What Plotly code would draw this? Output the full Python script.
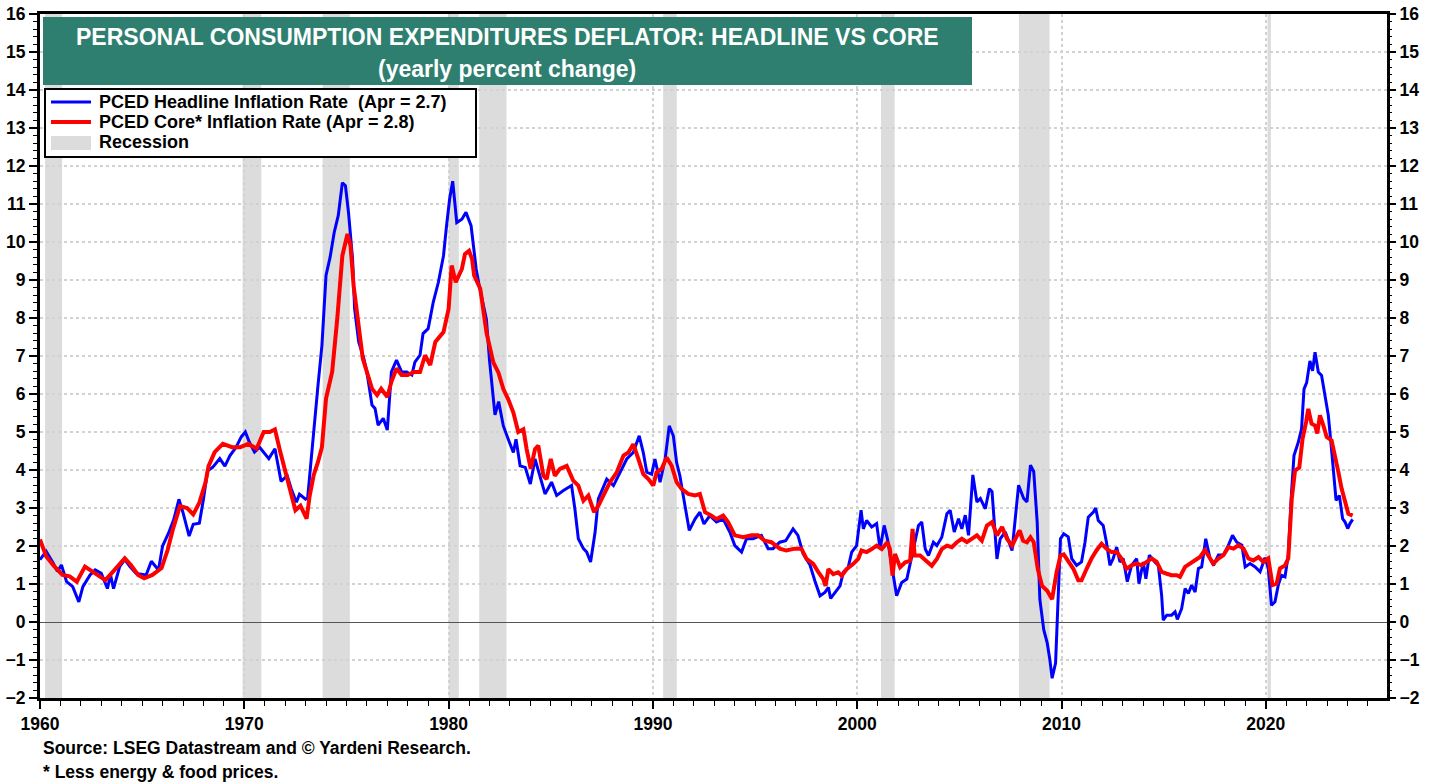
import plotly.graph_objects as go

# ---------------- data (decimal year, yearly % change) ----------------
headline_points = [
    (1960.0, 1.64), (1960.3, 1.86), (1960.65, 1.55), (1960.85, 1.33), (1961.05, 1.5),
    (1961.3, 1.06), (1961.6, 0.93), (1961.9, 0.53), (1962.1, 0.93), (1962.45, 1.24),
    (1962.7, 1.37), (1963.0, 1.28), (1963.3, 0.88), (1963.45, 1.24), (1963.6, 0.88),
    (1963.9, 1.46), (1964.15, 1.64), (1964.4, 1.46), (1964.7, 1.28), (1965.2, 1.24),
    (1965.45, 1.6), (1965.8, 1.37), (1966.0, 2.0), (1966.3, 2.35), (1966.55, 2.7),
    (1966.8, 3.23), (1967.0, 2.88), (1967.3, 2.26), (1967.5, 2.57), (1967.8, 2.6),
    (1968.0, 3.23), (1968.2, 3.98), (1968.45, 4.07), (1968.8, 4.3), (1969.05, 4.1),
    (1969.3, 4.38), (1969.6, 4.6), (1969.85, 4.87), (1970.05, 5.0), (1970.25, 4.73),
    (1970.5, 4.47), (1970.75, 4.6), (1971.2, 4.3), (1971.5, 4.56), (1971.8, 3.7),
    (1972.1, 3.85), (1972.3, 3.5), (1972.55, 3.15), (1972.7, 3.36), (1973.0, 3.23),
    (1973.1, 3.26), (1973.3, 4.48), (1973.45, 5.27), (1973.6, 6.19), (1973.8, 7.28),
    (1974.0, 9.12), (1974.2, 9.6), (1974.4, 10.25), (1974.6, 10.7), (1974.8, 11.56),
    (1974.95, 11.48), (1975.1, 10.78), (1975.3, 9.55), (1975.4, 8.24), (1975.6, 7.37),
    (1975.85, 6.93), (1976.0, 6.58), (1976.25, 5.71), (1976.4, 5.62), (1976.55, 5.18),
    (1976.8, 5.36), (1977.0, 5.05), (1977.2, 6.58), (1977.45, 6.89), (1977.7, 6.58),
    (1977.95, 6.58), (1978.2, 6.5), (1978.35, 6.84), (1978.6, 7.02), (1978.75, 7.59),
    (1979.0, 7.72), (1979.25, 8.42), (1979.5, 8.94), (1979.75, 9.64), (1979.9, 10.43),
    (1980.05, 11.13), (1980.2, 11.6), (1980.4, 10.51), (1980.65, 10.6), (1980.85, 10.78),
    (1981.1, 10.43), (1981.35, 9.29), (1981.5, 8.85), (1981.85, 7.97), (1982.0, 6.9),
    (1982.15, 6.0), (1982.27, 5.45), (1982.45, 5.8), (1982.68, 5.16), (1982.92, 4.81),
    (1983.17, 4.46), (1983.3, 4.81), (1983.5, 4.11), (1983.75, 4.07), (1984.0, 3.63),
    (1984.23, 4.29), (1984.47, 3.85), (1984.72, 3.37), (1985.04, 3.68), (1985.29, 3.33),
    (1985.62, 3.46), (1986.02, 3.59), (1986.18, 2.98), (1986.35, 2.19), (1986.6, 1.93),
    (1986.76, 1.84), (1986.95, 1.58), (1987.17, 2.36), (1987.33, 3.24), (1987.74, 3.76),
    (1988.07, 3.59), (1988.4, 3.94), (1988.72, 4.29), (1989.04, 4.46), (1989.33, 4.9),
    (1989.53, 4.46), (1989.7, 3.94), (1989.94, 3.89), (1990.1, 4.29), (1990.35, 3.68),
    (1990.6, 4.29), (1990.8, 5.16), (1991.0, 4.9), (1991.16, 4.2), (1991.32, 3.85),
    (1991.57, 3.06), (1991.78, 2.41), (1992.06, 2.71), (1992.3, 2.89), (1992.5, 2.58),
    (1992.79, 2.8), (1993.11, 2.63), (1993.44, 2.71), (1993.77, 2.36), (1994.01, 2.01),
    (1994.34, 1.84), (1994.58, 2.19), (1994.9, 2.19), (1995.31, 2.28), (1995.64, 1.93),
    (1995.88, 1.93), (1996.21, 2.1), (1996.5, 2.14), (1996.86, 2.45), (1997.1, 2.28),
    (1997.35, 1.8), (1997.69, 1.5), (1997.93, 1.08), (1998.18, 0.69), (1998.42, 0.78),
    (1998.59, 0.91), (1998.7, 0.62), (1998.91, 0.78), (1999.16, 0.95), (1999.32, 1.31),
    (1999.56, 1.44), (1999.73, 1.84), (1999.97, 2.01), (2000.19, 2.94), (2000.3, 2.45),
    (2000.46, 2.67), (2000.71, 2.5), (2000.95, 2.59), (2001.12, 1.92), (2001.32, 2.54),
    (2001.48, 2.19), (2001.69, 1.48), (2001.93, 0.69), (2002.18, 1.04), (2002.43, 1.13),
    (2002.75, 1.92), (2003.0, 2.54), (2003.16, 2.63), (2003.33, 1.92), (2003.49, 1.75),
    (2003.73, 2.1), (2003.9, 2.01), (2004.14, 2.23), (2004.39, 2.85), (2004.55, 2.94),
    (2004.75, 2.37), (2004.96, 2.72), (2005.12, 2.45), (2005.29, 2.81), (2005.45, 2.28),
    (2005.66, 3.87), (2005.86, 3.16), (2006.03, 3.25), (2006.27, 2.98), (2006.47, 3.51),
    (2006.6, 3.43), (2006.84, 1.66), (2007.0, 2.19), (2007.25, 2.37), (2007.58, 1.88),
    (2007.79, 3.07), (2007.9, 3.6), (2008.15, 3.25), (2008.31, 3.16), (2008.48, 4.13),
    (2008.64, 3.96), (2008.81, 2.63), (2008.94, 0.6), (2009.13, -0.2), (2009.3, -0.55),
    (2009.43, -0.99), (2009.54, -1.48), (2009.71, -1.08), (2009.82, 0.42), (2009.95, 2.19),
    (2010.11, 2.32), (2010.33, 2.24), (2010.5, 1.67), (2010.74, 1.49), (2010.98, 1.58),
    (2011.15, 2.1), (2011.31, 2.76), (2011.56, 2.89), (2011.67, 3.0), (2011.8, 2.67),
    (2012.04, 2.54), (2012.2, 2.1), (2012.37, 1.49), (2012.53, 1.67), (2012.7, 1.97),
    (2012.86, 1.58), (2013.02, 1.67), (2013.22, 1.06), (2013.43, 1.49), (2013.68, 1.67),
    (2013.79, 1.01), (2014.0, 1.58), (2014.13, 1.14), (2014.3, 1.76), (2014.57, 1.58),
    (2014.74, 1.49), (2014.9, 0.71), (2014.98, 0.05), (2015.15, 0.18), (2015.39, 0.18),
    (2015.56, 0.27), (2015.67, 0.07), (2015.88, 0.35), (2016.05, 0.88), (2016.21, 0.75),
    (2016.37, 0.97), (2016.54, 0.79), (2016.7, 1.41), (2016.86, 1.45), (2017.06, 2.19),
    (2017.27, 1.67), (2017.44, 1.49), (2017.68, 1.76), (2017.93, 1.76), (2018.17, 2.02),
    (2018.37, 2.28), (2018.58, 2.1), (2018.83, 2.02), (2018.99, 1.45), (2019.23, 1.54),
    (2019.48, 1.45), (2019.72, 1.32), (2019.96, 1.69), (2020.12, 1.41), (2020.28, 0.44),
    (2020.45, 0.53), (2020.61, 0.97), (2020.77, 1.23), (2020.94, 1.19), (2021.1, 1.76),
    (2021.26, 3.42), (2021.38, 4.38), (2021.59, 4.73), (2021.75, 5.08), (2021.87, 6.13),
    (2022.0, 6.3), (2022.16, 6.87), (2022.29, 6.61), (2022.41, 7.1), (2022.57, 6.58),
    (2022.73, 6.49), (2022.9, 5.96), (2023.06, 5.44), (2023.23, 4.47), (2023.34, 3.86),
    (2023.44, 3.2), (2023.6, 3.33), (2023.76, 2.72), (2023.88, 2.63), (2024.01, 2.46),
    (2024.12, 2.59), (2024.25, 2.7),
]

core_points = [
    (1960.0, 2.17), (1960.3, 1.73), (1960.7, 1.46), (1961.1, 1.24), (1961.45, 1.2),
    (1961.8, 1.06), (1962.2, 1.46), (1962.55, 1.33), (1963.2, 1.1), (1963.5, 1.28),
    (1963.9, 1.55), (1964.15, 1.68), (1964.45, 1.5), (1964.8, 1.24), (1965.1, 1.15),
    (1965.5, 1.24), (1965.95, 1.42), (1966.25, 1.9), (1966.5, 2.43), (1966.85, 3.05),
    (1967.2, 3.0), (1967.5, 2.83), (1967.8, 3.14), (1968.1, 3.67), (1968.25, 4.1),
    (1968.55, 4.47), (1968.95, 4.69), (1969.4, 4.6), (1969.8, 4.6), (1970.2, 4.69),
    (1970.6, 4.56), (1970.95, 5.0), (1971.25, 5.0), (1971.5, 5.07), (1971.75, 4.5),
    (1972.1, 3.75), (1972.5, 2.94), (1972.75, 3.06), (1973.05, 2.72), (1973.2, 3.32),
    (1973.4, 3.87), (1973.6, 4.2), (1973.8, 4.6), (1974.0, 5.88), (1974.3, 6.58),
    (1974.55, 7.98), (1974.8, 9.64), (1975.05, 10.21), (1975.2, 9.9), (1975.35, 8.85),
    (1975.6, 7.8), (1975.8, 6.93), (1976.0, 6.58), (1976.25, 6.14), (1976.5, 5.97),
    (1976.7, 6.14), (1977.0, 5.92), (1977.2, 6.32), (1977.45, 6.67), (1977.7, 6.5),
    (1978.0, 6.5), (1978.3, 6.58), (1978.6, 6.58), (1978.85, 7.02), (1979.1, 6.76),
    (1979.35, 7.37), (1979.75, 7.63), (1980.0, 8.24), (1980.15, 9.38), (1980.35, 8.94),
    (1980.65, 9.29), (1980.8, 9.68), (1981.0, 9.77), (1981.15, 9.55), (1981.25, 9.12),
    (1981.55, 8.77), (1981.86, 7.6), (1982.19, 6.83), (1982.44, 6.56), (1982.68, 6.13),
    (1982.92, 5.86), (1983.17, 5.51), (1983.41, 5.0), (1983.66, 5.07), (1983.82, 4.55),
    (1984.02, 4.03), (1984.23, 4.55), (1984.39, 4.64), (1984.64, 3.85), (1984.8, 3.76),
    (1985.0, 4.29), (1985.2, 3.85), (1985.45, 4.03), (1985.78, 4.11), (1986.1, 3.72),
    (1986.35, 3.59), (1986.6, 3.19), (1986.84, 3.33), (1987.12, 2.89), (1987.33, 3.06),
    (1987.58, 3.33), (1987.9, 3.68), (1988.23, 3.94), (1988.56, 4.38), (1988.8, 4.46),
    (1989.04, 4.68), (1989.29, 4.29), (1989.53, 3.89), (1989.78, 3.76), (1990.02, 3.59),
    (1990.18, 3.94), (1990.43, 4.03), (1990.67, 4.33), (1990.92, 4.11), (1991.16, 3.68),
    (1991.41, 3.5), (1991.73, 3.37), (1992.06, 3.33), (1992.3, 3.37), (1992.55, 2.89),
    (1992.87, 2.8), (1993.11, 2.71), (1993.44, 2.8), (1993.68, 2.63), (1994.01, 2.28),
    (1994.42, 2.23), (1994.82, 2.28), (1995.15, 2.28), (1995.47, 2.14), (1995.8, 2.1),
    (1996.21, 1.93), (1996.53, 1.88), (1996.94, 1.93), (1997.27, 1.93), (1997.52, 1.66),
    (1997.85, 1.53), (1998.1, 1.31), (1998.34, 1.13), (1998.45, 0.95), (1998.59, 1.39),
    (1998.83, 1.26), (1999.07, 1.31), (1999.24, 1.22), (1999.48, 1.39), (1999.81, 1.53),
    (2000.05, 1.66), (2000.21, 1.88), (2000.46, 1.84), (2000.71, 1.92), (2000.95, 2.01),
    (2001.2, 1.92), (2001.48, 2.1), (2001.6, 1.92), (2001.73, 1.22), (2001.85, 1.79),
    (2002.1, 1.44), (2002.35, 1.57), (2002.59, 1.61), (2002.71, 2.45), (2002.81, 1.75),
    (2003.08, 1.75), (2003.41, 1.61), (2003.65, 1.48), (2003.9, 1.66), (2004.14, 1.92),
    (2004.39, 2.01), (2004.63, 1.97), (2004.88, 2.1), (2005.12, 2.19), (2005.37, 2.1),
    (2005.61, 2.19), (2005.86, 2.28), (2006.1, 2.14), (2006.35, 2.54), (2006.6, 2.63),
    (2006.84, 2.28), (2007.09, 2.5), (2007.33, 2.19), (2007.58, 2.01), (2007.74, 2.19),
    (2007.95, 2.41), (2008.12, 2.14), (2008.31, 2.1), (2008.48, 2.23), (2008.64, 2.1),
    (2008.84, 1.39), (2009.05, 0.95), (2009.3, 0.82), (2009.54, 0.6), (2009.76, 1.31),
    (2009.95, 1.75), (2010.11, 1.78), (2010.33, 1.62), (2010.58, 1.4), (2010.82, 1.1),
    (2010.98, 1.1), (2011.23, 1.4), (2011.47, 1.67), (2011.72, 1.89), (2011.96, 2.06),
    (2012.2, 1.93), (2012.45, 1.84), (2012.7, 1.84), (2012.94, 1.67), (2013.19, 1.4),
    (2013.43, 1.49), (2013.68, 1.54), (2013.92, 1.49), (2014.17, 1.58), (2014.41, 1.67),
    (2014.66, 1.58), (2014.9, 1.32), (2015.15, 1.27), (2015.39, 1.23), (2015.64, 1.23),
    (2015.8, 1.19), (2016.05, 1.45), (2016.29, 1.54), (2016.54, 1.62), (2016.78, 1.71),
    (2017.02, 1.89), (2017.27, 1.67), (2017.43, 1.54), (2017.68, 1.67), (2017.93, 1.76),
    (2018.17, 1.97), (2018.42, 1.93), (2018.66, 2.02), (2018.91, 1.93), (2019.15, 1.67),
    (2019.39, 1.62), (2019.64, 1.71), (2019.88, 1.58), (2020.12, 1.67), (2020.33, 0.97),
    (2020.53, 1.01), (2020.69, 1.41), (2020.94, 1.49), (2021.1, 1.67), (2021.27, 3.24),
    (2021.43, 3.98), (2021.64, 4.07), (2021.8, 4.82), (2021.97, 5.26), (2022.08, 5.61),
    (2022.24, 5.22), (2022.41, 5.17), (2022.52, 4.96), (2022.65, 5.44), (2022.82, 5.17),
    (2022.98, 4.87), (2023.22, 4.78), (2023.39, 4.39), (2023.55, 3.95), (2023.71, 3.51),
    (2023.88, 3.16), (2024.04, 2.85), (2024.25, 2.8),
]

recession_starts = ["1960-04", "1969-12", "1973-11", "1980-01", "1981-07",
                    "1990-07", "2001-03", "2007-12", "2020-02"]
recession_ends = ["1961-02", "1970-11", "1975-03", "1980-07", "1982-11",
                  "1991-03", "2001-11", "2009-06", "2020-04"]

y_ticks = list(range(-2, 17))
x_ticks = [1960, 1970, 1980, 1990, 2000, 2010, 2020]

headline_label = "PCED Headline Inflation Rate  (Apr = 2.7)"
core_label = "PCED Core* Inflation Rate (Apr = 2.8)"
recession_label = "Recession"
title_line1 = "PERSONAL CONSUMPTION EXPENDITURES DEFLATOR: HEADLINE VS CORE"
title_line2 = "(yearly percent change)"
source_line1 = "Source: LSEG Datastream and © Yardeni Research."
source_line2 = "* Less energy & food prices."

# ---------------- layout helpers ----------------
W, H = 1439, 784
L, R, T, B = 40, 1387, 14, 698
X_MAX = 1960 + (R - L) / 20.43
FONT = "Liberation Sans, Arial, sans-serif"


def px(p):
    return (p - L) / (R - L)


def py(p):
    return (B - p) / (B - T)


def ym(s):
    y, m = s.split("-")
    return int(y) + (int(m) - 1) / 12.0


BLUE = "#0000FF"
RED = "#FF0000"
GRAY = "#DCDCDC"
GREEN = "#2E7F70"
GRID = "#D2D2D2"
BLUE_W = 3.0
RED_W = 4.0

hx = [p[0] for p in headline_points]
hy = [p[1] for p in headline_points]
cx = [p[0] for p in core_points]
cy = [p[1] for p in core_points]

fig = go.Figure()
fig.add_trace(go.Scatter(x=hx, y=hy, mode="lines", name=headline_label,
                         line=dict(color=BLUE, width=BLUE_W), showlegend=False))
fig.add_trace(go.Scatter(x=cx, y=cy, mode="lines", name=core_label,
                         line=dict(color=RED, width=RED_W), showlegend=False))
# invisible trace to activate the right-hand axis
fig.add_trace(go.Scatter(x=[hx[0]], y=[hy[0]], yaxis="y2", mode="markers",
                         marker=dict(opacity=0), showlegend=False, hoverinfo="skip"))

shapes = []
for s, e in zip(recession_starts, recession_ends):
    shapes.append(dict(type="rect", xref="x", yref="paper", x0=ym(s), x1=ym(e),
                       y0=0, y1=1, fillcolor=GRAY, line=dict(width=0), layer="below"))

# title box
shapes.append(dict(type="rect", xref="paper", yref="paper", x0=px(43), x1=px(972),
                   y0=py(85), y1=py(17), fillcolor=GREEN, line=dict(width=0), layer="above"))
# legend box
shapes.append(dict(type="rect", xref="paper", yref="paper", x0=px(45), x1=px(476),
                   y0=py(157), y1=py(89), fillcolor="white",
                   line=dict(color="black", width=2), layer="above"))
shapes.append(dict(type="line", xref="paper", yref="paper", x0=px(51), x1=px(91),
                   y0=py(102), y1=py(102), line=dict(color=BLUE, width=BLUE_W), layer="above"))
shapes.append(dict(type="line", xref="paper", yref="paper", x0=px(51), x1=px(91),
                   y0=py(122), y1=py(122), line=dict(color=RED, width=RED_W), layer="above"))
shapes.append(dict(type="rect", xref="paper", yref="paper", x0=px(51), x1=px(91),
                   y0=py(150), y1=py(136), fillcolor=GRAY, line=dict(width=0), layer="above"))

annotations = [
    dict(text=title_line1, x=px(507), y=py(37), xref="paper", yref="paper",
         showarrow=False, xanchor="center", yanchor="middle",
         font=dict(family=FONT, size=23, color="white", weight="bold")),
    dict(text=title_line2, x=px(507), y=py(69), xref="paper", yref="paper",
         showarrow=False, xanchor="center", yanchor="middle",
         font=dict(family=FONT, size=23, color="white", weight="bold")),
]
for txt, yy in [(headline_label, 102), (core_label, 122), (recession_label, 142)]:
    annotations.append(dict(text=txt, x=px(97), y=py(yy), xref="paper", yref="paper",
                            showarrow=False, xanchor="left", yanchor="middle",
                            font=dict(family=FONT, size=18, color="black", weight="bold")))
for txt, yy in [(source_line1, 748), (source_line2, 772)]:
    annotations.append(dict(text=txt, x=px(41), y=py(yy), xref="paper", yref="paper",
                            showarrow=False, xanchor="left", yanchor="middle",
                            font=dict(family=FONT, size=17.5, color="black", weight="bold")))

tickfont = dict(family=FONT, size=17.5, color="black", weight="bold")
yaxis_common = dict(range=[-2, 16], tickmode="array", tickvals=y_ticks,
                    ticks="outside", ticklen=8, tickwidth=2, tickcolor="black",
                    tickfont=tickfont, automargin=False,
                    minor=dict(dtick=0.2, tick0=0, ticks="outside", ticklen=4,
                               tickwidth=1.2, tickcolor="black", showgrid=False))

fig.update_layout(
    width=W, height=H,
    margin=dict(l=L, r=W - R, t=T, b=H - B, pad=0, autoexpand=False),
    paper_bgcolor="white", plot_bgcolor="white",
    showlegend=False,
    xaxis=dict(range=[1960, X_MAX], tickmode="array", tickvals=x_ticks,
               ticks="outside", ticklen=8, tickwidth=2, tickcolor="black",
               tickfont=tickfont, automargin=False,
               showline=True, linewidth=3, linecolor="black", mirror=True,
               showgrid=True, gridcolor=GRID, gridwidth=1.5, griddash="dot",
               zeroline=False,
               minor=dict(dtick=1, tick0=1960, ticks="outside", ticklen=5,
                          tickwidth=1.2, tickcolor="black", showgrid=False)),
    yaxis=dict(**yaxis_common, side="left",
               showline=True, linewidth=3, linecolor="black", mirror=True,
               showgrid=True, gridcolor=GRID, gridwidth=1.5, griddash="dot",
               zeroline=True, zerolinecolor="#555555", zerolinewidth=1.2),
    yaxis2=dict(**yaxis_common, side="right", overlaying="y", anchor="x",
                showline=False, showgrid=False, zeroline=False),
    shapes=shapes,
    annotations=annotations,
    hovermode=False,
)

fig.write_html("out.html", config={"displayModeBar": False},
               post_script="document.body.style.margin='0';document.body.style.overflow='hidden';")
